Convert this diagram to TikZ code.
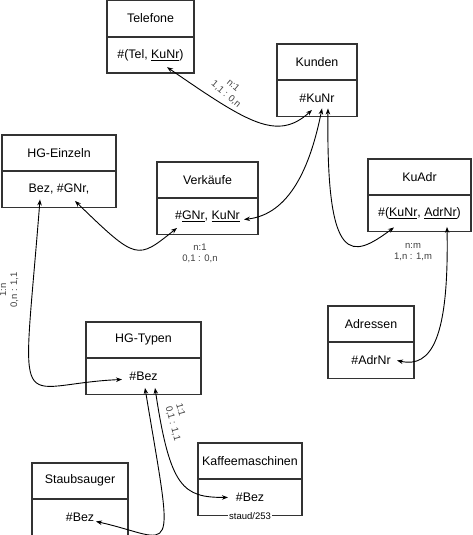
\documentclass[tikz,border=0pt]{standalone}
\usepackage{fontspec}
\setmainfont{Liberation Sans}
\usetikzlibrary{arrows.meta}

\tikzset{
  ent/.style={draw=black!80,line width=1.2pt,minimum height=35.5pt,inner sep=0pt,font=\fontsize{12.4}{14}\selectfont},
  rel/.style={{Stealth[length=6pt,width=4.5pt]}-{Stealth[length=6pt,width=4.5pt]},line width=0.9pt},
  card/.style={font=\fontsize{9.5}{11}\selectfont,text=black!75,align=center,inner sep=0pt},
}

\begin{document}
\begin{tikzpicture}[x=1pt,y=1pt]
    \useasboundingbox (0,0) rectangle (472,-535);
    % entities: title part and key part
    \node[ent,minimum width=87pt]  (tel) at (150.5,-18.45) {Telefone};
    \node[ent,minimum width=87pt,anchor=north]  (telA) at (tel.south) {\#(Tel, \underline{KuNr})};
    \node[ent,minimum width=80pt]  (kun) at (317,-61.75) {Kunden};
    \node[ent,minimum width=80pt,anchor=north]  (kunA) at (kun.south) {\#KuNr};
    \node[ent,minimum width=114pt] (ein) at (59,-152.75) {HG-Einzeln};
    \node[ent,minimum width=114pt,anchor=north] (einA) at (ein.south) {Bez, \#GNr,};
    \node[ent,minimum width=101pt] (ver) at (207.5,-179.75) {Verkäufe};
    \node[ent,minimum width=101pt,anchor=north] (verA) at (ver.south) {\#\underline{GNr}, \underline{KuNr}};
    \node[ent,minimum width=103pt] (adr) at (419.5,-176.75) {KuAdr};
    \node[ent,minimum width=103pt,anchor=north] (adrA) at (adr.south) {\#(\underline{KuNr}, \underline{AdrNr})};
    \node[ent,minimum width=86pt]  (ads) at (371,-323.75) {Adressen};
    \node[ent,minimum width=86pt,anchor=north]  (adsA) at (ads.south) {\#AdrNr};
    \node[ent,minimum width=115pt] (typ) at (143.5,-339.75) {HG-Typen};
    \node[ent,minimum width=115pt,anchor=north] (typA) at (typ.south) {\#Bez};
    \node[ent,minimum width=96pt]  (stb) at (80,-480.75) {Staubsauger};
    \node[ent,minimum width=96pt,anchor=north]  (stbA) at (stb.south) {\#Bez};
    \node[ent,minimum width=104pt] (kaf) at (250,-460.75) {Kaffeemaschinen};
    \node[ent,minimum width=104pt,anchor=north] (kafA) at (kaf.south) {\#Bez};
    \node[fill=white,inner sep=1pt,font=\fontsize{9.5}{10}\selectfont] (sig) at (kafA.south) {staud/253};

    % arrow ends inside the key parts
    \coordinate (telP)  at ([shift={(16.5,-12)}]telA.center);
    \coordinate (kunP1) at ([shift={(-5,-11.5)}]kunA.center);
    \coordinate (kunP2) at ([shift={(5,-10)}]kunA.center);
    \coordinate (kunP3) at ([shift={(11,-10)}]kunA.center);
    \coordinate (verP1) at ([shift={(-30.5,-11.5)}]verA.center);
    \coordinate (verP2) at ([shift={(36.5,-3)}]verA.center);
    \coordinate (einP1) at ([shift={(-19,-10)}]einA.center);
    \coordinate (einP2) at ([shift={(16,-11.5)}]einA.center);
    \coordinate (adrP1) at ([shift={(-25.5,-14)}]adrA.center);
    \coordinate (adrP2) at ([shift={(27.5,-13.5)}]adrA.center);
    \coordinate (adsP)  at ([shift={(26,0)}]adsA.center);
    \coordinate (typP1) at ([shift={(-21.5,-3)}]typA.center);
    \coordinate (typP2) at ([shift={(1.5,-11.5)}]typA.center);
    \coordinate (typP3) at ([shift={(11.5,-11.5)}]typA.center);
    \coordinate (stbP)  at ([shift={(16,-4)}]stbA.center);
    \coordinate (kafP)  at ([shift={(-22,0)}]kafA.center);

    % relationships
    \draw[rel] (telP) .. controls +(80,-55) and +(-35,-32) .. (kunP1);
    \draw[rel] (verP2) .. controls +(45,5) and +(-12,-60) .. (kunP2);
    \draw[rel] (kunP3) .. controls +(-2,-160) and +(-42,-31) .. (adrP1);
    \draw[rel] (adrP2) .. controls +(2,-110) and +(35,-8) .. (adsP);
    \draw[rel] (einP2) .. controls +(62,-60) and +(-40,-32) .. (verP1);
    \draw[rel] (einP1) .. controls +(-18,-230) and +(-110,-5) .. (typP1);
    \draw[rel] (typP2) .. controls +(30,-180) and +(80,-18) .. (stbP);
    \draw[rel] (typP3) .. controls +(15,-100) and +(-45,0) .. (kafP);

    % cardinalities
    \node[card,rotate=-40] (cTel) at (229.5,-90) {n:1\\1,1 : 0,n};
    \node[card] (cVer) at (200,-253) {n:1\\0,1 : 0,n};
    \node[card] (cAdr) at (413,-252) {n:m\\1,n : 1,m};
    \node[card,rotate=90] (cEin) at (9,-290) {1:n\\0,n : 1,1};
    \node[card,rotate=-75,align=left] (cKaf) at (178,-422) {1:1\\0,1 : 1,1};
\end{tikzpicture}
\end{document}
